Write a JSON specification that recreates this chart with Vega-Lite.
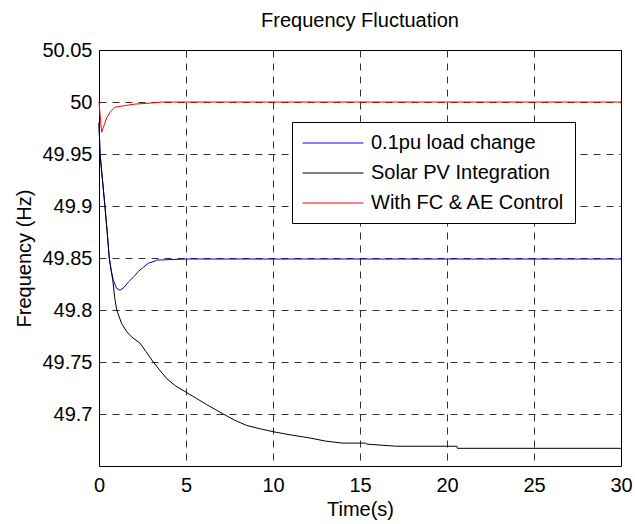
{
  "$schema": "https://vega.github.io/schema/vega-lite/v6.json",
  "autosize": "none",
  "width": 522,
  "height": 416,
  "padding": {"left": 99, "top": 50, "right": 14, "bottom": 58},
  "background": "white",
  "config": {
    "font": "Liberation Sans",
    "view": {"stroke": "#000", "strokeWidth": 1},
    "axis": {
      "domain": false,
      "ticks": false,
      "grid": true,
      "gridColor": "#000",
      "gridOpacity": 0.8,
      "gridDash": [7, 6],
      "gridWidth": 1,
      "labelFont": "Liberation Sans",
      "labelFontSize": 20,
      "labelColor": "#000",
      "titleFont": "Liberation Sans",
      "titleFontSize": 20,
      "titleFontWeight": "normal",
      "titleColor": "#000"
    }
  },
  "title": {
    "text": "Frequency Fluctuation",
    "font": "Liberation Sans",
    "fontSize": 20,
    "fontWeight": "normal",
    "color": "#000",
    "anchor": "middle",
    "offset": 9
  },
  "data": {
    "values": [
      {"t": 0, "f": 49.98, "s": "0.1pu load change"},
      {"t": 0.06, "f": 49.95, "s": "0.1pu load change"},
      {"t": 0.2, "f": 49.925, "s": "0.1pu load change"},
      {"t": 0.34, "f": 49.9, "s": "0.1pu load change"},
      {"t": 0.47, "f": 49.875, "s": "0.1pu load change"},
      {"t": 0.59, "f": 49.85, "s": "0.1pu load change"},
      {"t": 0.7, "f": 49.838, "s": "0.1pu load change"},
      {"t": 0.82, "f": 49.829, "s": "0.1pu load change"},
      {"t": 1.0, "f": 49.821, "s": "0.1pu load change"},
      {"t": 1.21, "f": 49.819, "s": "0.1pu load change"},
      {"t": 1.45, "f": 49.822, "s": "0.1pu load change"},
      {"t": 1.69, "f": 49.827, "s": "0.1pu load change"},
      {"t": 2.0, "f": 49.832, "s": "0.1pu load change"},
      {"t": 2.26, "f": 49.837, "s": "0.1pu load change"},
      {"t": 2.55, "f": 49.841, "s": "0.1pu load change"},
      {"t": 2.83, "f": 49.845, "s": "0.1pu load change"},
      {"t": 3.22, "f": 49.847, "s": "0.1pu load change"},
      {"t": 3.3, "f": 49.848, "s": "0.1pu load change"},
      {"t": 5, "f": 49.849, "s": "0.1pu load change"},
      {"t": 30, "f": 49.849, "s": "0.1pu load change"},

      {"t": 0, "f": 49.98, "s": "Solar PV Integration"},
      {"t": 0.06, "f": 49.95, "s": "Solar PV Integration"},
      {"t": 0.2, "f": 49.925, "s": "Solar PV Integration"},
      {"t": 0.34, "f": 49.9, "s": "Solar PV Integration"},
      {"t": 0.47, "f": 49.875, "s": "Solar PV Integration"},
      {"t": 0.59, "f": 49.85, "s": "Solar PV Integration"},
      {"t": 0.7, "f": 49.838, "s": "Solar PV Integration"},
      {"t": 0.79, "f": 49.829, "s": "Solar PV Integration"},
      {"t": 0.9, "f": 49.812, "s": "Solar PV Integration"},
      {"t": 1.02, "f": 49.8, "s": "Solar PV Integration"},
      {"t": 1.3, "f": 49.787, "s": "Solar PV Integration"},
      {"t": 1.6, "f": 49.779, "s": "Solar PV Integration"},
      {"t": 1.88, "f": 49.774, "s": "Solar PV Integration"},
      {"t": 2.36, "f": 49.768, "s": "Solar PV Integration"},
      {"t": 2.7, "f": 49.76, "s": "Solar PV Integration"},
      {"t": 3.12, "f": 49.75, "s": "Solar PV Integration"},
      {"t": 3.5, "f": 49.742, "s": "Solar PV Integration"},
      {"t": 3.89, "f": 49.734, "s": "Solar PV Integration"},
      {"t": 4.4, "f": 49.727, "s": "Solar PV Integration"},
      {"t": 5, "f": 49.721, "s": "Solar PV Integration"},
      {"t": 5.6, "f": 49.715, "s": "Solar PV Integration"},
      {"t": 6.19, "f": 49.709, "s": "Solar PV Integration"},
      {"t": 7.14, "f": 49.7, "s": "Solar PV Integration"},
      {"t": 7.8, "f": 49.694, "s": "Solar PV Integration"},
      {"t": 8.49, "f": 49.689, "s": "Solar PV Integration"},
      {"t": 9.2, "f": 49.686, "s": "Solar PV Integration"},
      {"t": 10, "f": 49.683, "s": "Solar PV Integration"},
      {"t": 10.98, "f": 49.68, "s": "Solar PV Integration"},
      {"t": 12.1, "f": 49.677, "s": "Solar PV Integration"},
      {"t": 13, "f": 49.674, "s": "Solar PV Integration"},
      {"t": 14, "f": 49.672, "s": "Solar PV Integration"},
      {"t": 15.3, "f": 49.672, "s": "Solar PV Integration"},
      {"t": 15.4, "f": 49.671, "s": "Solar PV Integration"},
      {"t": 17.1, "f": 49.669, "s": "Solar PV Integration"},
      {"t": 20.56, "f": 49.669, "s": "Solar PV Integration"},
      {"t": 20.6, "f": 49.667, "s": "Solar PV Integration"},
      {"t": 30, "f": 49.667, "s": "Solar PV Integration"},

      {"t": 0, "f": 50.0, "s": "With FC & AE Control"},
      {"t": 0.15, "f": 49.971, "s": "With FC & AE Control"},
      {"t": 0.3, "f": 49.978, "s": "With FC & AE Control"},
      {"t": 0.45, "f": 49.985, "s": "With FC & AE Control"},
      {"t": 0.63, "f": 49.99, "s": "With FC & AE Control"},
      {"t": 0.92, "f": 49.995, "s": "With FC & AE Control"},
      {"t": 1.3, "f": 49.996, "s": "With FC & AE Control"},
      {"t": 1.67, "f": 49.997, "s": "With FC & AE Control"},
      {"t": 2.07, "f": 49.998, "s": "With FC & AE Control"},
      {"t": 3.0, "f": 49.999, "s": "With FC & AE Control"},
      {"t": 3.6, "f": 50.0, "s": "With FC & AE Control"},
      {"t": 30, "f": 50.0, "s": "With FC & AE Control"}
    ]
  },
  "mark": {"type": "line", "strokeWidth": 1, "interpolate": "linear"},
  "encoding": {
    "x": {
      "field": "t",
      "type": "quantitative",
      "title": "Time(s)",
      "scale": {"domain": [0, 30], "nice": false, "zero": false},
      "axis": {"values": [0, 5, 10, 15, 20, 25, 30], "labelPadding": 9, "titlePadding": 4, "labelFlush": false}
    },
    "y": {
      "field": "f",
      "type": "quantitative",
      "title": "Frequency (Hz)",
      "scale": {"domain": [49.65, 50.05], "nice": false, "zero": false},
      "axis": {"values": [49.7, 49.75, 49.8, 49.85, 49.9, 49.95, 50, 50.05], "format": ".2~f", "labelPadding": 7, "titlePadding": 7, "labelFlush": false}
    },
    "color": {
      "field": "s",
      "type": "nominal",
      "scale": {
        "domain": ["0.1pu load change", "Solar PV Integration", "With FC & AE Control"],
        "range": ["#0000FF", "#000000", "#FF0000"]
      },
      "legend": {
        "orient": "none",
        "legendX": 193,
        "legendY": 72,
        "title": null,
        "symbolType": "M-3,0H3",
        "symbolSize": 413,
        "symbolOffset": 20,
        "symbolStrokeWidth": 1,
        "labelFont": "Liberation Sans",
        "labelFontSize": 20,
        "labelColor": "#000",
        "labelOffset": 27,
        "rowPadding": 9,
        "padding": 10,
        "strokeColor": "#000",
        "fillColor": "#fff",
        "labelLimit": 400
      }
    }
  }
}
